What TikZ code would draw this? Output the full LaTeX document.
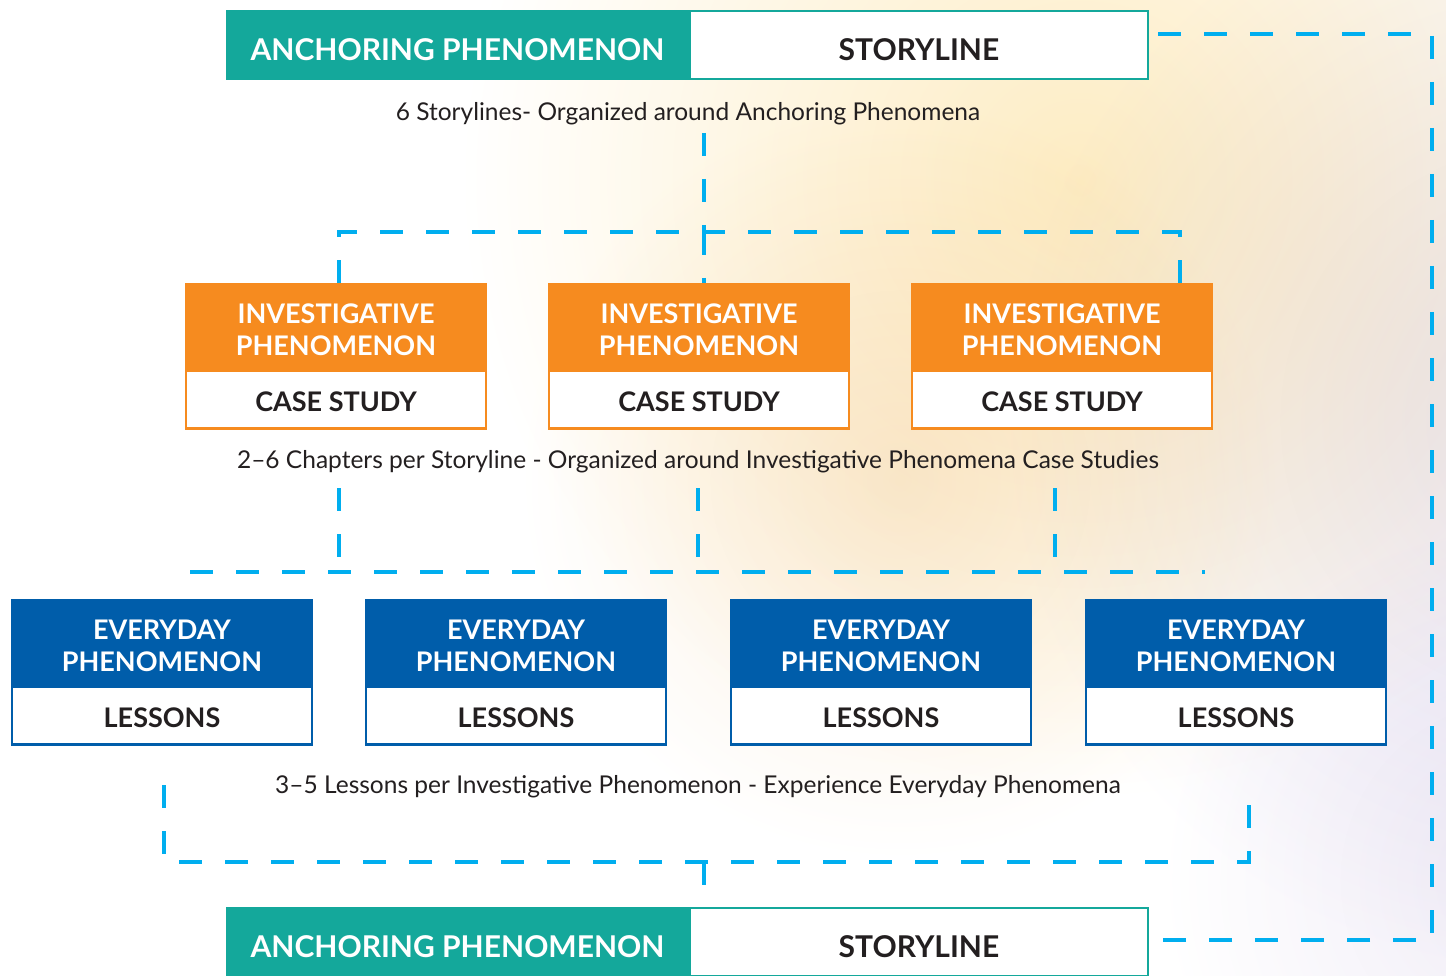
\documentclass[tikz,border=0pt]{standalone}
\usepackage{fontspec}
\setmainfont{Lato}
\usetikzlibrary{calc}
\definecolor{tealc}{RGB}{20,168,155}
\definecolor{orangec}{RGB}{246,139,31}
\definecolor{bluec}{RGB}{0,93,170}
\definecolor{cyanc}{RGB}{0,174,239}
\definecolor{textc}{RGB}{35,31,32}
\begin{document}
\begin{tikzpicture}[x=1pt,y=-1pt,
  hdrfont/.style={font=\fontsize{27}{32}\selectfont\bfseries},
  tealhdr/.style={fill=tealc,draw=tealc,line width=2.5pt,minimum width=460pt,minimum height=68pt,inner sep=0pt,text=white,font=\fontsize{30}{34}\selectfont\bfseries,text height=31.6pt,text depth=0pt},
  storybox/.style={fill=white,draw=tealc,line width=2.5pt,minimum width=458pt,minimum height=68pt,inner sep=0pt,text=textc,font=\fontsize{30}{34}\selectfont\bfseries,text height=31.6pt,text depth=0pt},
  orangehdr/.style={fill=orangec,draw=orangec,line width=2.5pt,minimum width=300pt,minimum height=84pt,inner sep=0pt},
  orangebody/.style={fill=white,draw=orangec,line width=2.5pt,minimum width=300pt,minimum height=58pt,inner sep=0pt,text=textc,hdrfont,text height=23.4pt,text depth=0pt},
  bluehdr/.style={fill=bluec,draw=bluec,line width=2.5pt,minimum width=300pt,minimum height=84pt,inner sep=0pt},
  bluebody/.style={fill=white,draw=bluec,line width=2.5pt,minimum width=300pt,minimum height=58pt,inner sep=0pt,text=textc,hdrfont,text height=23.4pt,text depth=0pt},
  hdrtext/.style={text=white,align=center,inner sep=0pt,hdrfont},
  caption/.style={text=textc,font=\fontsize{24.5}{28}\selectfont,inner sep=0pt},
  conn/.style={draw=cyanc,line width=4.5pt,dash pattern=on 23pt off 23pt},
]
\useasboundingbox (0,0) rectangle (1446,976);
\clip (0,0) rectangle (1446,976);
\fill[white] (0,0) rectangle (1446,976);
% soft background glow
\shade[blend mode=multiply,inner color={rgb,255:red,253;green,236;blue,195},outer color=white] (1080,180) circle (620);
\shade[blend mode=multiply,inner color={rgb,255:red,250;green,238;blue,222},outer color=white] (900,480) circle (380);
\shade[blend mode=multiply,inner color={rgb,255:red,232;green,228;blue,242},outer color=white] (1560,420) circle (560);
\shade[blend mode=multiply,inner color={rgb,255:red,240;green,236;blue,246},outer color=white] (1520,880) circle (360);

% top storyline
\node[tealhdr] (a1) at (457.5,45) {ANCHORING PHENOMENON};
\node[storybox,anchor=west] (s1) at (a1.east) {STORYLINE};
\node[caption] (c1) at (688,114) {6 Storylines- Organized around Anchoring Phenomena};

% investigative
\foreach \n/\x in {1/336,2/699,3/1062}{
  \node[orangehdr] (i\n h) at (\x,326) {};
  \node[hdrtext] (i\n t) at ($(i\n h.center)+(0,4)$) {INVESTIGATIVE\\[0pt]PHENOMENON};
  \node[orangebody,anchor=north] (i\n b) at (i\n h.south) {CASE STUDY};
}
\node[caption] (c2) at (698,462) {2–6 Chapters per Storyline - Organized around Investigative Phenomena Case Studies};

% everyday
\foreach \n/\x in {1/162,2/516,3/881,4/1236}{
  \node[bluehdr] (e\n h) at (\x,642) {};
  \node[hdrtext] (e\n t) at ($(e\n h.center)+(0,4)$) {EVERYDAY\\[0pt]PHENOMENON};
  \node[bluebody,anchor=north] (e\n b) at (e\n h.south) {LESSONS};
}
\node[caption] (c3) at (698,787) {3–5 Lessons per Investigative Phenomenon - Experience Everyday Phenomena};

% bottom storyline
\node[tealhdr] (a2) at (457.5,942) {ANCHORING PHENOMENON};
\node[storybox,anchor=west] (s2) at (a2.east) {STORYLINE};

% connector coordinates
\coordinate (t1) at (704,133);
\coordinate (j1) at (704,232);
\coordinate (l1) at (339,232);
\coordinate (r1) at (1180,232);
\coordinate (m1) at (339,488);
\coordinate (m2) at (698,488);
\coordinate (m3) at (1055,488);
\coordinate (h2l) at (190,572);
\coordinate (h2r) at (1205,572);
\coordinate (b1) at (164,785);
\coordinate (b2) at (1249,785);
\coordinate (j3) at (704,862);
\coordinate (lp1) at (1158,34);
\coordinate (lp2) at (1158,940);

% connectors
\draw[conn] (t1) -- (j1);
\draw[conn] (l1 |- i1h.north) -- (l1) -- (r1) -- (r1 |- i3h.north);
\draw[conn] (j1) -- (j1 |- i2h.north);
\draw[conn] (h2l) -- (h2r);
\draw[conn] (m1) -- (m1 |- h2l);
\draw[conn] (m2) -- (m2 |- h2l);
\draw[conn] (m3) -- (m3 |- h2l);
\draw[conn] (b1) -- (b1 |- j3) -- (b2 |- j3) -- (b2);
\draw[conn] (j3) -- (j3 |- a2.north);
\draw[conn] (lp1) -- (1432,34) -- (1432,940) -- (lp2);
\end{tikzpicture}
\end{document}
